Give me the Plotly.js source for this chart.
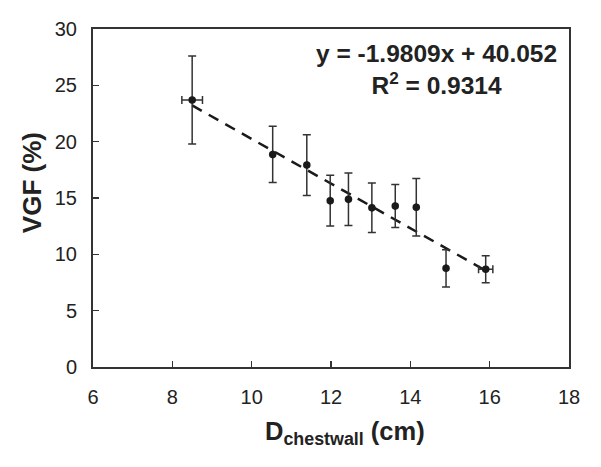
<!DOCTYPE html>
<html>
<head>
<meta charset="utf-8">
<script src="https://cdn.plot.ly/plotly-3.0.1.min.js"></script>
<style>html,body{margin:0;padding:0;background:#fff;}#chart{width:601px;height:467px;}</style>
</head>
<body>
<div id="chart"></div>
<script>
// Data
const dChestwall = [8.50, 10.53, 11.39, 11.98, 12.44, 13.03, 13.62, 14.15, 14.90, 15.90];
const vgf        = [23.7, 18.87, 17.92, 14.76, 14.90, 14.14, 14.29, 14.17, 8.76, 8.67];
const vgfErr     = [3.9, 2.5, 2.7, 2.25, 2.33, 2.2, 1.9, 2.55, 1.65, 1.2];
const dErr       = [0.26, 0, 0, 0, 0, 0, 0, 0, 0, 0.18];
// Linear fit shown on the chart
const fitSlope = -1.9809;
const fitIntercept = 40.052;
const fitX = [8.5, 15.9];
const fitY = fitX.map(x => fitSlope * x + fitIntercept);
const xTicks = [6, 8, 10, 12, 14, 16, 18];
const yTicks = [0, 5, 10, 15, 20, 25, 30];
const xTitle = '<b>D<sub>chestwall</sub> (cm)</b>';
const yTitle = '<b>VGF (%)</b>';
const fitLabel = '<b>y = -1.9809x + 40.052</b><br><b>R<sup>2</sup> = 0.9314</b>';

const ink = '#1a1a1a';
const traces = [
  {
    x: fitX, y: fitY, mode: 'lines', type: 'scatter',
    line: {color: ink, width: 2.5, dash: '11px,8px'},
    hoverinfo: 'skip', showlegend: false
  },
  {
    x: dChestwall, y: vgf, mode: 'markers', type: 'scatter',
    marker: {color: ink, size: 7.5},
    error_y: {type: 'data', array: vgfErr, visible: true, color: '#333', thickness: 1.5, width: 4},
    error_x: {type: 'data', array: dErr, visible: true, color: '#333', thickness: 1.5, width: 4},
    showlegend: false
  }
];

const layout = {
  width: 601, height: 467,
  margin: {l: 93, r: 32, t: 29, b: 100},
  paper_bgcolor: '#fff', plot_bgcolor: '#fff',
  font: {family: 'Liberation Sans, Arial, sans-serif', color: '#222'},
  xaxis: {
    range: [6, 18], tickvals: xTicks, ticktext: xTicks.map(String),
    ticks: 'inside', ticklen: 6, tickwidth: 1.5, tickcolor: '#333',
    showline: true, linecolor: '#333', linewidth: 2, mirror: true,
    showgrid: false, zeroline: false,
    tickfont: {size: 20, color: '#222'},
    ticklabelstandoff: 11
  },
  yaxis: {
    range: [0, 30], tickvals: yTicks, ticktext: yTicks.map(String),
    ticks: 'inside', ticklen: 6, tickwidth: 1.5, tickcolor: '#333',
    showline: true, linecolor: '#333', linewidth: 2, mirror: true,
    showgrid: false, zeroline: false,
    tickfont: {size: 20, color: '#222'},
    ticklabelstandoff: 10
  },
  annotations: [
    {
      x: 14.65, y: 26.45, xref: 'x', yref: 'y',
      text: fitLabel,
      showarrow: false, align: 'center',
      font: {size: 24.5, color: '#222'}
    },
    {
      x: 0.529, y: -0.195, xref: 'paper', yref: 'paper',
      xanchor: 'center', yanchor: 'middle',
      text: xTitle, showarrow: false,
      font: {size: 25.5, color: '#222'}
    },
    {
      x: 0, y: 0.544, xref: 'paper', yref: 'paper',
      xanchor: 'center', yanchor: 'middle', xshift: -61,
      text: yTitle, textangle: -90, showarrow: false,
      font: {size: 26, color: '#222'}
    }
  ]
};

Plotly.newPlot('chart', traces, layout, {displayModeBar: false, staticPlot: true});
</script>
</body>
</html>
